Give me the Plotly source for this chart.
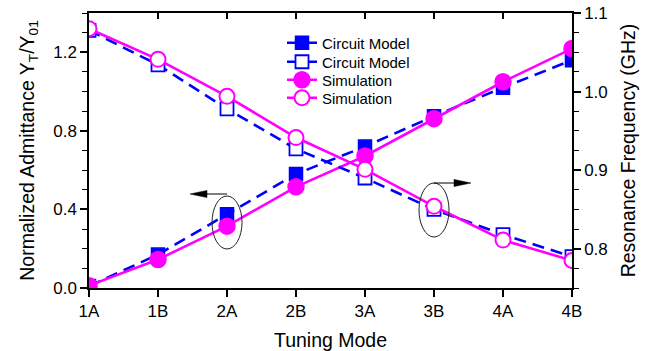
import plotly.graph_objects as go

# Tuning states and measured/simulated responses
categories = ["1A", "1B", "2A", "2B", "3A", "3B", "4A", "4B"]
circuit_admittance = [0.01, 0.17, 0.375, 0.58, 0.72, 0.875, 1.02, 1.16]
sim_admittance = [0.012, 0.145, 0.315, 0.515, 0.672, 0.862, 1.05, 1.219]
circuit_freq = [1.078, 1.034, 0.978, 0.927, 0.890, 0.850, 0.818, 0.790]
sim_freq = [1.080, 1.041, 0.994, 0.9415, 0.901, 0.854, 0.811, 0.785]

BLUE = "#0000FF"
PINK = "#FF00FF"
FONT = "Arial, Liberation Sans, sans-serif"

W, H = 656, 351
L, R, T, B = 89, 572, 13, 288  # plot-area edges in pixels


def px(x):
    return (x - L) / (R - L)


def py(y):
    return (B - y) / (B - T)


fig = go.Figure()

fig.add_trace(go.Scatter(
    x=categories, y=circuit_admittance, name="Circuit Model", yaxis="y",
    mode="lines+markers", legend="legend",
    line=dict(color=BLUE, width=2.6, dash="12px,7px"),
    marker=dict(symbol="square", size=13, color=BLUE, line=dict(color=BLUE, width=1.5)),
))
fig.add_trace(go.Scatter(
    x=categories, y=circuit_freq, name="Circuit Model", yaxis="y2",
    mode="lines+markers", legend="legend2",
    line=dict(color=BLUE, width=2.6, dash="12px,7px"),
    marker=dict(symbol="square", size=13, color="white", line=dict(color=BLUE, width=1.8)),
))
fig.add_trace(go.Scatter(
    x=categories, y=sim_admittance, name="Simulation", yaxis="y",
    mode="lines+markers", legend="legend3",
    line=dict(color=PINK, width=2.6),
    marker=dict(symbol="circle", size=16, color=PINK, line=dict(color=PINK, width=1.5)),
))
fig.add_trace(go.Scatter(
    x=categories, y=sim_freq, name="Simulation", yaxis="y2",
    mode="lines+markers", legend="legend4",
    line=dict(color=PINK, width=2.6),
    marker=dict(symbol="circle", size=15, color="white", line=dict(color=PINK, width=2)),
))

# top frame ticks (pointing inward)
fig.add_trace(go.Scatter(x=categories, y=[None] * len(categories), xaxis="x2",
                         showlegend=False, hoverinfo="skip"))

shapes = []
# callout ellipses
for (x0, x1, y0, y1) in [(212, 242, 196, 249), (419, 449, 183, 237)]:
    shapes.append(dict(type="circle", xref="paper", yref="paper",
                       x0=px(x0), x1=px(x1), y0=py(y1), y1=py(y0),
                       line=dict(color="#222222", width=1)))
# arrow shafts
shapes.append(dict(type="line", xref="paper", yref="paper",
                   x0=px(227), x1=px(205), y0=py(194), y1=py(194),
                   line=dict(color="black", width=1)))
shapes.append(dict(type="line", xref="paper", yref="paper",
                   x0=px(434), x1=px(456), y0=py(183), y1=py(183),
                   line=dict(color="black", width=1)))


def head(tip_x, base_x, y, half=3.6):
    return (f"M {px(tip_x)},{py(y)} L {px(base_x)},{py(y - half)} "
            f"L {px(base_x)},{py(y + half)} Z")


shapes.append(dict(type="path", xref="paper", yref="paper", path=head(190, 207, 194),
                   fillcolor="black", line=dict(color="black", width=0.5)))
shapes.append(dict(type="path", xref="paper", yref="paper", path=head(471, 454, 183),
                   fillcolor="black", line=dict(color="black", width=0.5)))

axis_font = dict(family=FONT, size=17, color="black")
title_font = dict(family=FONT, size=19.5, color="black")
legend_font = dict(family=FONT, size=15, color="black")


def legend_row(y_center):
    return dict(x=px(282), y=py(y_center), xanchor="left", yanchor="middle",
                bgcolor="rgba(0,0,0,0)", borderwidth=0, font=legend_font,
                itemwidth=30)


fig.update_layout(
    width=W, height=H,
    margin=dict(l=L, r=W - R, t=T, b=H - B, autoexpand=False),
    paper_bgcolor="white", plot_bgcolor="white",
    font=dict(family=FONT, color="black"),
    showlegend=True,
    legend=legend_row(43),
    legend2=legend_row(62),
    legend3=legend_row(80),
    legend4=legend_row(98),
    shapes=shapes,
    xaxis=dict(
        type="category", range=[0, len(categories) - 1],
        showline=True, linecolor="black", linewidth=1.5, mirror=True,
        ticks="outside", ticklen=7, tickwidth=1.5, tickcolor="black",
        tickfont=axis_font, showgrid=False, zeroline=False,
        title=dict(text="Tuning Mode", font=title_font, standoff=14),
    ),
    xaxis2=dict(
        type="category", overlaying="x", side="top", matches="x",
        range=[0, len(categories) - 1],
        showline=False, ticks="inside", ticklen=6, tickwidth=1.5, tickcolor="black",
        showticklabels=False, showgrid=False, zeroline=False,
    ),
    yaxis=dict(
        range=[0, 1.4], dtick=0.4, tick0=0, tickformat=".1f",
        showline=True, linecolor="black", linewidth=1.5,
        ticks="outside", ticklen=7, tickwidth=1.5, tickcolor="black",
        minor=dict(dtick=0.1, tick0=0, ticks="outside", ticklen=5, tickwidth=1.2,
                   tickcolor="black", showgrid=False),
        tickfont=axis_font, showgrid=False, zeroline=False,
        title=dict(text="Normalized Admittance Y<sub>T</sub>/Y<sub>01</sub>",
                   font=title_font, standoff=13),
    ),
    yaxis2=dict(
        overlaying="y", side="right", anchor="x",
        range=[0.75, 1.1], dtick=0.1, tick0=0, tickformat=".1f",
        showline=True, linecolor="black", linewidth=1.5,
        ticks="outside", ticklen=7, tickwidth=1.5, tickcolor="black",
        minor=dict(dtick=0.025, tick0=0, ticks="outside", ticklen=5, tickwidth=1.2,
                   tickcolor="black", showgrid=False),
        tickfont=axis_font, showgrid=False, zeroline=False,
        title=dict(text="Resonance Frequency (GHz)", font=title_font, standoff=15),
    ),
)

fig.write_html("out.html")
